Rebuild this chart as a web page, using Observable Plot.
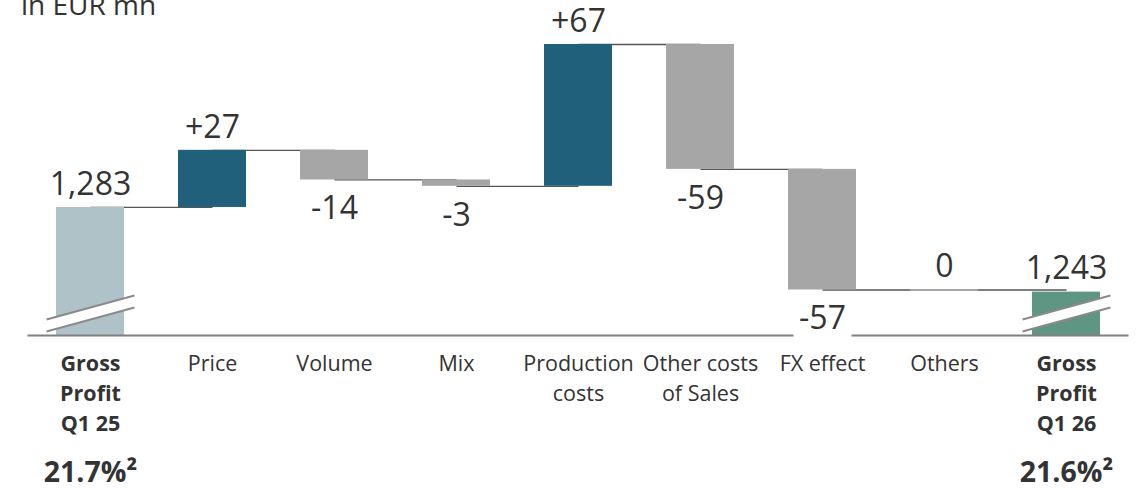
<!DOCTYPE html>
<html><head><meta charset="utf-8">
<script src="https://cdn.jsdelivr.net/npm/d3@7"></script>
<script src="https://cdn.jsdelivr.net/npm/@observablehq/plot@0.6"></script>
<style>
html,body{margin:0;padding:0;background:#fff;overflow:hidden}
body{font-family:"Open Sans",sans-serif;position:relative;width:1145px;height:489px}
#unit{position:absolute;left:21px;top:-10px;font-size:28px;line-height:28px;color:#333;z-index:2}
#chart{position:absolute;left:0;top:0}
</style></head><body>
<div id="unit">in EUR mn</div>
<div id="chart"></div>
<script>
// ---- data ----
const categories = ["Gross\nProfit\nQ1 25", "Price", "Volume", "Mix", "Production\ncosts", "Other costs\nof Sales", "FX effect", "Others", "Gross\nProfit\nQ1 26"];
const values = [1283, 27, -14, -3, 67, -59, -57, 0, 1243];
const isTotal = [true, false, false, false, false, false, false, false, true];
const marginLabels = ["21.7%²", "", "", "", "", "", "", "", "21.6%²"];
const yDomain = [1222.5, 1380.8];

// ---- styles ----
const colors = {start: "#aec2c8", end: "#5e9583", up: "#20607a", down: "#a6a6a6", flat: "#a6a6a6"};
const textColor = "#333";

// ---- build rows ----
let run = 0;
const rows = categories.map((c, i) => {
  const v = values[i];
  let y1, y2, kind;
  if (isTotal[i]) { y1 = 0; y2 = v; run = v; kind = i === 0 ? "start" : "end"; }
  else { y1 = run; y2 = run + v; run = y2; kind = v > 0 ? "up" : v < 0 ? "down" : "flat"; }
  return {
    cat: c, i, v, y1, y2, end: y2, kind,
    top: Math.max(y1, y2), bottom: Math.min(y1, y2),
    total: isTotal[i],
    label: isTotal[i] ? d3.format(",")(v) : (v > 0 ? "+" + v : String(v)),
    pct: marginLabels[i]
  };
});
const links = rows.slice(0, -1).map((r, i) => ({a: r.cat, b: rows[i + 1].cat, y: r.end}));

// custom symbols for axis-break marks and label backgrounds
const breakFill = {draw(ctx) { ctx.moveTo(-44, -16); ctx.lineTo(44, -40); ctx.lineTo(44, -28); ctx.lineTo(-44, -4); ctx.closePath(); }};
const breakLines = {draw(ctx) { ctx.moveTo(-44, -16); ctx.lineTo(44, -40); ctx.moveTo(-44, -4); ctx.lineTo(44, -28); }};
const labelBox = {draw(ctx) { ctx.moveTo(-29, -17); ctx.lineTo(29, -17); ctx.lineTo(29, 20); ctx.lineTo(-29, 20); ctx.closePath(); }};

const neg = rows.filter(d => !d.total && d.v < 0);
const pos = rows.filter(d => d.total || d.v >= 0);

const chart = Plot.plot({
  width: 1145, height: 489,
  marginTop: 0, marginBottom: 154, marginLeft: 28, marginRight: 18,
  style: {fontFamily: "'Open Sans', sans-serif", background: "white", overflow: "visible"},
  x: {domain: categories, paddingInner: 0.444, paddingOuter: 0.222, axis: null},
  y: {domain: yDomain, axis: null},
  color: {type: "identity"},
  marks: [
    Plot.link(links, {x1: "a", x2: "b", y1: "y", y2: "y", stroke: "#555", strokeWidth: 1.3}),
    Plot.barY(rows.filter(d => d.kind !== "flat"), {x: "cat", y1: "y1", y2: "y2", fill: d => colors[d.kind], clip: true}),
    Plot.tickY(rows.filter(d => d.kind === "flat"), {x: "cat", y: "y2", stroke: colors.flat, strokeWidth: 2}),
    Plot.frame({anchor: "bottom", stroke: "#808080", strokeWidth: 2}),
    Plot.dot(neg, {x: "cat", y: "bottom", dy: 28, symbol: labelBox, fill: "white", stroke: "none"}),
    Plot.dot(rows.filter(d => d.total), {x: "cat", frameAnchor: "bottom", symbol: breakFill, fill: "white", stroke: "none"}),
    Plot.dot(rows.filter(d => d.total), {x: "cat", frameAnchor: "bottom", symbol: breakLines, fill: "none", stroke: "#8a8a8a", strokeWidth: 2}),
    Plot.text(pos, {x: "cat", y: "top", text: "label", dy: -23, fontSize: 32, fill: textColor}),
    Plot.text(neg, {x: "cat", y: "bottom", text: "label", dy: 29, fontSize: 32, fill: textColor}),
    Plot.text(rows.filter(d => !d.total), {x: "cat", text: "cat", frameAnchor: "bottom", lineAnchor: "top", dy: 14, fontSize: 21.5, lineHeight: 1.4, fill: textColor}),
    Plot.text(rows.filter(d => d.total), {x: "cat", text: "cat", frameAnchor: "bottom", lineAnchor: "top", dy: 14, fontSize: 21.5, lineHeight: 1.4, fontWeight: "bold", fill: textColor}),
    Plot.text(rows.filter(d => d.total), {x: "cat", text: "pct", frameAnchor: "bottom", lineAnchor: "top", dy: 126, fontSize: 28.5, fontWeight: "bold", fill: textColor})
  ]
});
document.getElementById("chart").appendChild(chart);
</script>
</body></html>
